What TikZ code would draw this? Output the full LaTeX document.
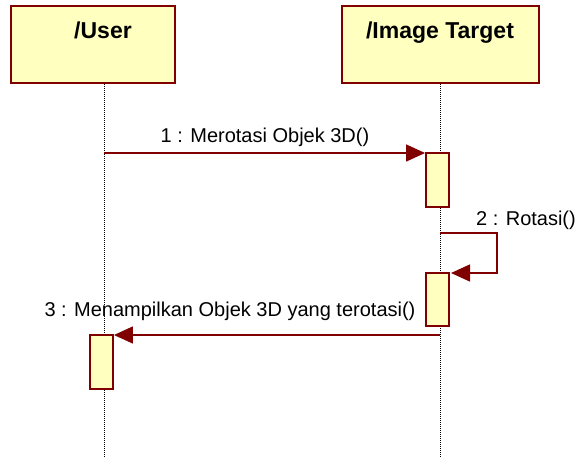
\documentclass[tikz,border=0pt]{standalone}
\usepackage{fontspec}
\setmainfont{Liberation Sans}
\usetikzlibrary{arrows.meta}
\definecolor{umlborder}{HTML}{800000}
\definecolor{umlfill}{HTML}{FFFFC0}
\tikzset{
  lifebox/.style={draw=umlborder, fill=umlfill, line width=1.9pt, minimum height=77pt, anchor=north west, inner sep=0pt},
  actbar/.style={draw=umlborder, fill=umlfill, line width=1.9pt, minimum width=23pt, anchor=north, inner sep=0pt},
  lifeline/.style={draw=black, densely dotted, line width=1pt},
  msg/.style={draw=umlborder, line width=1.4pt, -{Triangle[length=19pt,width=17pt]}},
  msglabel/.style={font=\fontsize{20}{22}\selectfont, text=black, inner sep=0pt, anchor=base},
  title/.style={font=\bfseries\fontsize{23}{25}\selectfont, text=black, inner sep=0pt, anchor=base}
}
\begin{document}
\begin{tikzpicture}[x=1pt, y=-1pt]
\useasboundingbox (0,0) rectangle (581,458);

% lifelines
\draw[lifeline] (104,82) -- (104,458);
\draw[lifeline] (440,82) -- (440,458);

% participant heads
\node[lifebox, minimum width=164pt] (user) at (10,5) {};
\node[title] (usertitle) at (103,38) {/User};
\node[lifebox, minimum width=197pt] (target) at (341,5) {};
\node[title] (targettitle) at (440,38) {/Image Target};

% activation bars
\node[actbar, minimum height=54pt] (act1) at (437.5,152) {};
\node[actbar, minimum height=53pt] (act2) at (437.5,272) {};
\node[actbar, minimum height=54pt] (act3) at (101.5,334) {};

% message 1
\coordinate (m1s) at (104,153);
\draw[msg] (m1s) -- (m1s -| act1.west);
\node[msglabel] (l1) at (265,142.5) {1 : Merotasi Objek 3D()};

% message 2 (self call)
\coordinate (m2s) at (440,233);
\coordinate (m2r) at (497,233);
\coordinate (m2e) at (451,273);
\draw[msg] (m2s) -- (m2r) |- (m2e);
\node[msglabel] (l2) at (526,225) {2 : Rotasi()};

% message 3
\coordinate (m3s) at (440,335);
\draw[msg] (m3s) -- (m3s -| act3.east);
\node[msglabel] (l3) at (230,316.5) {3 : Menampilkan Objek 3D yang terotasi()};
\end{tikzpicture}
\end{document}
